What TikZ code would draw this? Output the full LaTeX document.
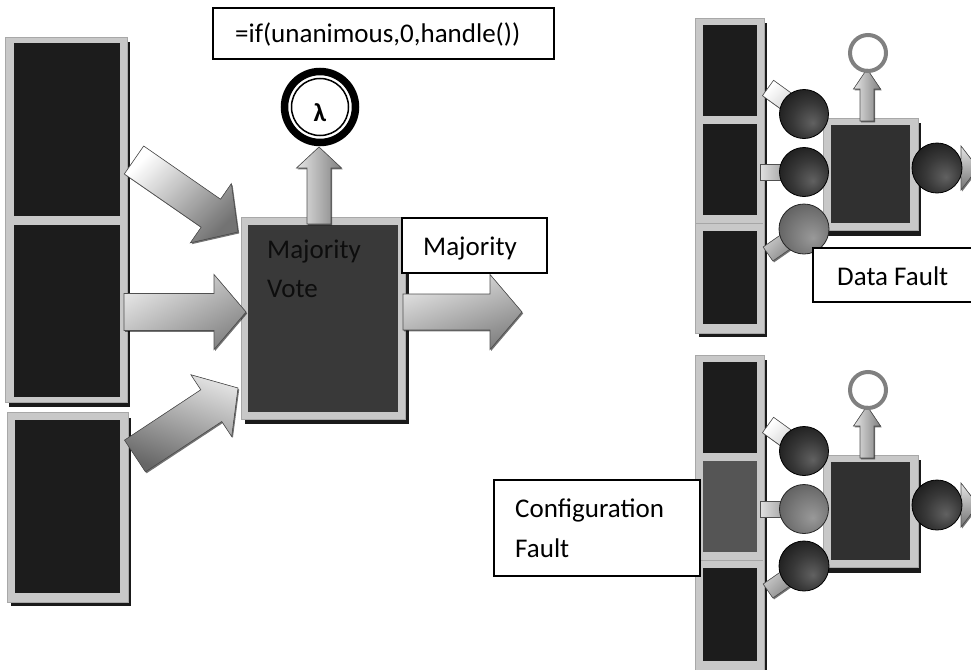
\documentclass[tikz,border=0pt]{standalone}
\usepackage{fontspec}
\setmainfont{Carlito}
\usetikzlibrary{calc,shadows}

\definecolor{frameg}{HTML}{C8C8C8}
\definecolor{frameedge}{HTML}{A8A8A8}
\definecolor{blockdark}{HTML}{1C1C1C}
\definecolor{votebox}{HTML}{393939}
\definecolor{unitbox}{HTML}{303030}
\definecolor{faultblock}{HTML}{555555}
\definecolor{shadowline}{HTML}{1A1A1A}
\definecolor{arrowedge}{HTML}{505050}

\pgfdeclareradialshading{sphere}{\pgfpoint{9bp}{-9bp}}{color(0bp)=(black!62); color(18bp)=(black!78); color(38bp)=(black!92); color(60bp)=(black)}
\pgfdeclareradialshading{greysphere}{\pgfpoint{9bp}{-9bp}}{color(0bp)=(black!40); color(18bp)=(black!52); color(38bp)=(black!66); color(60bp)=(black!82)}

\tikzset{
  gframe/.style={fill=frameg, draw=frameedge, line width=0.6pt},
  dropline/.style={fill=shadowline},
  blk/.style={fill=blockdark},
  barrow/.style={draw=arrowedge, line width=0.6pt, top color=black!5, bottom color=black!50, shading angle=45,
    drop shadow={shadow xshift=1.2pt, shadow yshift=-1.4pt, fill=black, opacity=0.55}},
  lblbox/.style={draw=black, line width=1.4pt, fill=white},
  lbl/.style={font=\fontsize{27}{30}\selectfont, inner sep=0pt, anchor=base west},
  orb/.style={shade, shading=sphere, draw=black, line width=0.8pt},
  faultorb/.style={shade, shading=greysphere, draw=black!85, line width=0.8pt},
  ringc/.style={draw=black!50, line width=4pt},
}

% block arrow: [options]{tail}{tip}{half shaft}{half head}{head length}
\newcommand\blockarrow[6][]{%
  \coordinate (ba-neck) at ($(#3)!#6!(#2)$);
  \filldraw[barrow,#1]
    ($(#2)!#4!90:(#3)$) -- ($(ba-neck)!#4!90:(#3)$) -- ($(ba-neck)!#5!90:(#3)$)
    -- (#3) -- ($(ba-neck)!#5!-90:(#3)$) -- ($(ba-neck)!#4!-90:(#3)$)
    -- ($(#2)!#4!-90:(#3)$) -- cycle;
}
% straight bar between two points: [options]{from}{to}{half width}
\newcommand\stubbar[4][]{%
  \filldraw[barrow,#1]
    ($(#2)!#4!90:(#3)$) -- ($(#3)!#4!-90:(#2)$) -- ($(#3)!#4!90:(#2)$)
    -- ($(#2)!#4!-90:(#3)$) -- cycle;
}

% small voter unit: {prefix}{y offset}{middle block colour}{ball 2 style}{ball 3 style}
\newcommand\voterunit[5]{%
  \begin{scope}[shift={(0,#2)}]
    \coordinate (#1-c1) at (804,114);
    \coordinate (#1-c2) at (804,172);
    \coordinate (#1-c3) at (804,229);
    \coordinate (#1-t1) at (768,88);
    \coordinate (#1-t2) at (760,172);
    \coordinate (#1-t3) at (768,254);
    \coordinate (#1-top) at (867,121);
    \coordinate (#1-tip) at (867,69);
    \coordinate (#1-ring) at (868,53);
    \coordinate (#1-outtail) at (916,168);
    \coordinate (#1-outtip) at (978,168);
    \coordinate (#1-out) at (937,168);
    % replica column
    \fill[dropline] (699,23) rectangle (767,337);
    \filldraw[gframe] (695,18) rectangle (764,333);
    \fill[blk] (703,25) rectangle (757,116);
    \fill[fill=#3] (703,124) rectangle (757,215);
    \fill[blk] (703,231) rectangle (757,324);
    \draw[black!35, line width=0.5pt] (696,223) -- (763,223);
    % voter box
    \fill[dropline] (827,123) rectangle (921,236);
    \filldraw[gframe] (823,118) rectangle (918,230);
    \fill[unitbox] (831,125) rectangle (910,223);
    % inputs
    \stubbar[top color=white, bottom color=black!25, shading angle=45]{#1-t1}{#1-c1}{9.5pt}
    \stubbar[top color=black!12, bottom color=black!55, shading angle=90]{#1-t2}{#1-c2}{8pt}
    \stubbar[top color=black!15, bottom color=black!55, shading angle=45]{#1-t3}{#1-c3}{8.5pt}
    \path[orb] (#1-c1) circle[radius=24.5pt];
    \path[#4] (#1-c2) circle[radius=24.5pt];
    \path[#5] (#1-c3) circle[radius=25pt];
    % exception output
    \blockarrow[top color=black!10, bottom color=black!50, shading angle=90]{#1-top}{#1-tip}{7pt}{13.5pt}{20pt}
    \draw[ringc] (#1-ring) circle[radius=18pt];
    % result output
    \blockarrow[top color=black!10, bottom color=black!55, shading angle=0]{#1-outtail}{#1-outtip}{9pt}{22pt}{17pt}
    \path[orb] (#1-out) circle[radius=25pt];
  \end{scope}
}

\begin{document}
\begin{tikzpicture}[x=1pt,y=-1pt]
\useasboundingbox (0,0) rectangle (971,669);
\clip (0,0) rectangle (971,669);
\fill[white] (0,0) rectangle (971,669);

% ---------- redundant replicas ----------
\fill[dropline] (9,42) rectangle (130,407);
\filldraw[gframe] (5,37) rectangle (127,402);
\fill[blk] (14,43) rectangle (120,216);
\fill[blk] (14,225) rectangle (120,397);
\fill[dropline] (11,418) rectangle (131,606);
\filldraw[gframe] (7,412) rectangle (128,602);
\fill[blk] (15,420) rectangle (120,593);

% ---------- voter ----------
\fill[dropline] (245,222) rectangle (409,424);
\filldraw[gframe] (241,217) rectangle (405,419);
\fill[votebox] (248,225) rectangle (398,412);
\node[lbl, text=black!95] (vtxt1) at (267,258) {Majority};
\node[lbl, text=black!95] (vtxt2) at (267,297) {Vote};

% arrow end points
\coordinate (in1) at (134,160);
\coordinate (v1) at (238,232);
\coordinate (in2) at (124,312);
\coordinate (v2) at (246,312);
\coordinate (in3) at (135,456);
\coordinate (v3) at (238,388);
\coordinate (vout) at (403,312);
\coordinate (res) at (522,312);
\coordinate (vtop) at (319,224);
\coordinate (exc) at (319,147);

\blockarrow[top color=white, bottom color=black!55, shading angle=45]{in1}{v1}{17pt}{36pt}{33pt}
\blockarrow[top color=black!10, bottom color=black!48, shading angle=30]{in2}{v2}{18.5pt}{37.5pt}{32pt}
\blockarrow[top color=black!12, bottom color=black!60, shading angle=-20]{in3}{v3}{19pt}{37pt}{32pt}
\blockarrow[top color=black!10, bottom color=black!50, shading angle=20]{vout}{res}{18pt}{37.5pt}{32pt}
\blockarrow[top color=black!10, bottom color=black!50, shading angle=90]{vtop}{exc}{12pt}{22.5pt}{21pt}

% exception handler
\coordinate (lam) at (320,107);
\fill[white] (lam) circle[radius=39pt];
\draw[line width=7.5pt] (lam) circle[radius=35.5pt];
\draw[line width=1.5pt] (lam) circle[radius=28.5pt];
\node[font=\bfseries\fontsize{26}{26}\selectfont, inner sep=0pt] (lamtxt) at (320,113) {λ};

% labels
\draw[lblbox] (213,8) rectangle (554,59);
\node[lbl] (formula) at (235,43) {=if(unanimous,0,handle())};
\draw[lblbox] (402,218) rectangle (547,273);
\node[lbl] (majlbl) at (423,255) {Majority};

% ---------- fault examples ----------
\voterunit{df}{0}{blockdark}{orb}{faultorb}
\voterunit{cf}{337}{faultblock}{faultorb}{orb}

\draw[lblbox] (813,248) rectangle (990,302);
\node[lbl] (dflbl) at (837,285) {Data Fault};
\draw[lblbox] (494,480) rectangle (700,576);
\node[lbl] (cflbl1) at (515,517) {Configuration};
\node[lbl] (cflbl2) at (515,557) {Fault};
\end{tikzpicture}
\end{document}
